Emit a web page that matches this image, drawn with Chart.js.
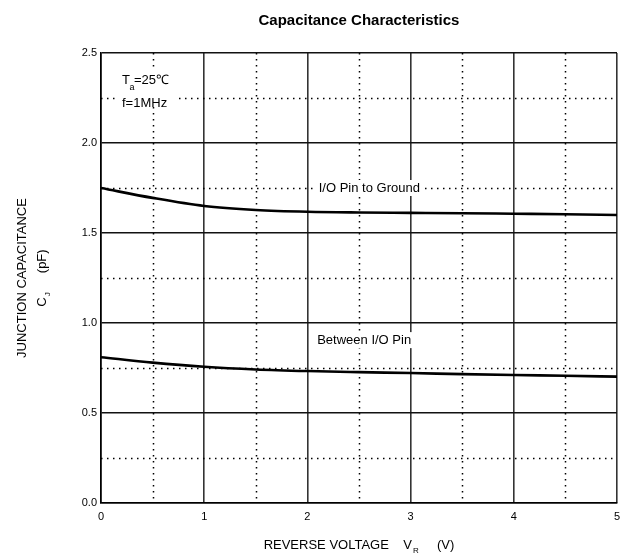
<!DOCTYPE html>
<html>
<head>
<meta charset="utf-8">
<script src="https://cdn.jsdelivr.net/npm/chart.js@4"></script>
<style>
  html, body { margin: 0; padding: 0; background: #fff; }
  #wrap { width: 630px; height: 554px; }
</style>
</head>
<body>
<div id="wrap"><canvas id="capChart" width="630" height="554"></canvas></div>
<script>
// data
var voltage = [0, 0.5, 1, 1.5, 2, 2.5, 3, 3.5, 4, 4.5, 5];
var ioToGround = [1.75, 1.695, 1.650, 1.628, 1.618, 1.614, 1.612, 1.610, 1.607, 1.604, 1.600];
var betweenIO = [0.810, 0.780, 0.757, 0.742, 0.733, 0.727, 0.722, 0.716, 0.711, 0.707, 0.702];
var xTicks = [0, 1, 2, 3, 4, 5];
var yTicks = [0.0, 0.5, 1.0, 1.5, 2.0, 2.5];
var xMinor = [0.5, 1.5, 2.5, 3.5, 4.5];
var yMinor = [0.25, 0.75, 1.25, 1.75, 2.25];

var FONT = '"Liberation Sans", Arial, sans-serif';

function pts(ys) {
    return voltage.map(function (v, i) { return { x: v, y: ys[i] }; });
}

// dotted minor grid, drawn under the curves
var minorGrid = {
    id: 'minorGrid',
    beforeDatasetsDraw: function (chart) {
        var c = chart.ctx, a = chart.chartArea;
        var xs = chart.scales.x, ys = chart.scales.y;
        c.save();
        c.strokeStyle = '#000';
        c.lineWidth = 1.5;
        c.setLineDash([1.5, 4.5]);
        xMinor.forEach(function (v) {
            var px = Math.round(xs.getPixelForValue(v)) + 0.5;
            c.beginPath(); c.moveTo(px, a.top); c.lineTo(px, a.bottom); c.stroke();
        });
        yMinor.forEach(function (v) {
            var py = Math.round(ys.getPixelForValue(v)) + 0.5;
            c.beginPath(); c.moveTo(a.left, py); c.lineTo(a.right, py); c.stroke();
        });
        c.restore();
    }
};

// text with white backing box so the grid breaks behind it
function boxedText(c, txt, x, y, align) {
    c.textAlign = align || 'center';
    c.textBaseline = 'middle';
    var w = c.measureText(txt).width;
    var x0 = align === 'left' ? x : x - w / 2;
    c.fillStyle = '#fff';
    c.fillRect(x0 - 2, y - 8, w + 4, 16);
    c.fillStyle = '#000';
    c.fillText(txt, x, y);
}

var labels = {
    id: 'labels',
    afterDatasetsDraw: function (chart) {
        var c = chart.ctx, a = chart.chartArea;
        var xs = chart.scales.x, ys = chart.scales.y;
        c.save();
        c.font = '13px ' + FONT;

        // conditions box
        var tx = a.left + 21, ty = ys.getPixelForValue(2.35);
        c.fillStyle = '#fff';
        c.fillRect(tx - 3, ty - 10, 60, 36);
        c.fillStyle = '#000';
        c.textAlign = 'left';
        c.textBaseline = 'middle';
        c.fillText('T', tx, ty);
        var tw = c.measureText('T').width;
        c.font = '9px ' + FONT;
        c.fillText('a', tx + tw - 0.5, ty + 8);
        c.font = '13px ' + FONT;
        c.fillText('=25\u2103', tx + tw + 4, ty);
        c.fillText('f=1MHz', tx, ty + 23);

        boxedText(c, 'I/O Pin to Ground', xs.getPixelForValue(2.6), ys.getPixelForValue(1.75));
        boxedText(c, 'Between I/O Pin', xs.getPixelForValue(2.55), ys.getPixelForValue(0.905));

        // title
        c.font = 'bold 15px ' + FONT;
        c.textAlign = 'center';
        c.fillText('Capacitance Characteristics', (a.left + a.right) / 2, 21);

        // x axis title
        c.font = '13px ' + FONT;
        c.textAlign = 'left';
        var xt1 = 'REVERSE VOLTAGE    V', xt2 = '     (V)';
        var w1 = c.measureText(xt1).width, w2 = c.measureText(xt2).width;
        var x0 = (a.left + a.right) / 2 - (w1 + 7 + w2) / 2, yy = 545;
        c.fillText(xt1, x0, yy);
        c.font = '8px ' + FONT;
        c.fillText('R', x0 + w1 + 1, yy + 6);
        c.font = '13px ' + FONT;
        c.fillText(xt2, x0 + w1 + 7, yy);

        // y axis title, two rotated lines
        c.translate(22, (a.top + a.bottom) / 2);
        c.rotate(-Math.PI / 2);
        c.textAlign = 'center';
        c.fillText('JUNCTION CAPACITANCE', 0, 0);
        var yl1 = 'C', yl2 = '     (pF)';
        var v1 = c.measureText(yl1).width, v2 = c.measureText(yl2).width;
        var s0 = -(v1 + 6 + v2) / 2;
        c.textAlign = 'left';
        c.fillText(yl1, s0, 20);
        c.font = '8px ' + FONT;
        c.fillText('J', s0 + v1 + 1, 26);
        c.font = '13px ' + FONT;
        c.fillText(yl2, s0 + v1 + 6, 20);
        c.restore();
    }
};

var ctx = document.getElementById('capChart').getContext('2d');
var chart = new Chart(ctx, {
    type: 'line',
    data: {
        datasets: [
            {
                label: 'I/O Pin to Ground',
                data: pts(ioToGround),
                borderColor: '#000',
                borderWidth: 2.6,
                pointRadius: 0,
                fill: false,
                cubicInterpolationMode: 'monotone'
            },
            {
                label: 'Between I/O Pin',
                data: pts(betweenIO),
                borderColor: '#000',
                borderWidth: 2.6,
                pointRadius: 0,
                fill: false,
                cubicInterpolationMode: 'monotone'
            }
        ]
    },
    options: {
        responsive: false,
        animation: false,
        layout: { padding: { top: 53, right: 13, left: 0, bottom: 0 } },
        plugins: {
            legend: { display: false },
            title: { display: false },
            tooltip: { enabled: false }
        },
        scales: {
            x: {
                type: 'linear',
                min: 0,
                max: 5,
                afterBuildTicks: function (s) { s.ticks = xTicks.map(function (v) { return { value: v }; }); },
                afterFit: function (s) { s.height = 51; },
                grid: { color: '#333', lineWidth: 1.6, drawTicks: false },
                border: { color: '#000', width: 1.6 },
                ticks: {
                    color: '#000',
                    padding: 7,
                    font: { family: FONT, size: 11 },
                    callback: function (v) { return String(v); }
                }
            },
            y: {
                type: 'linear',
                min: 0,
                max: 2.5,
                afterBuildTicks: function (s) { s.ticks = yTicks.map(function (v) { return { value: v }; }); },
                afterFit: function (s) { s.width = 101; },
                grid: { color: '#111', lineWidth: 1.5, drawTicks: false },
                border: { color: '#000', width: 1.6 },
                ticks: {
                    color: '#000',
                    padding: 4,
                    font: { family: FONT, size: 11 },
                    callback: function (v) { return Number(v).toFixed(1); }
                }
            }
        }
    },
    plugins: [minorGrid, labels]
});
</script>
</body>
</html>
